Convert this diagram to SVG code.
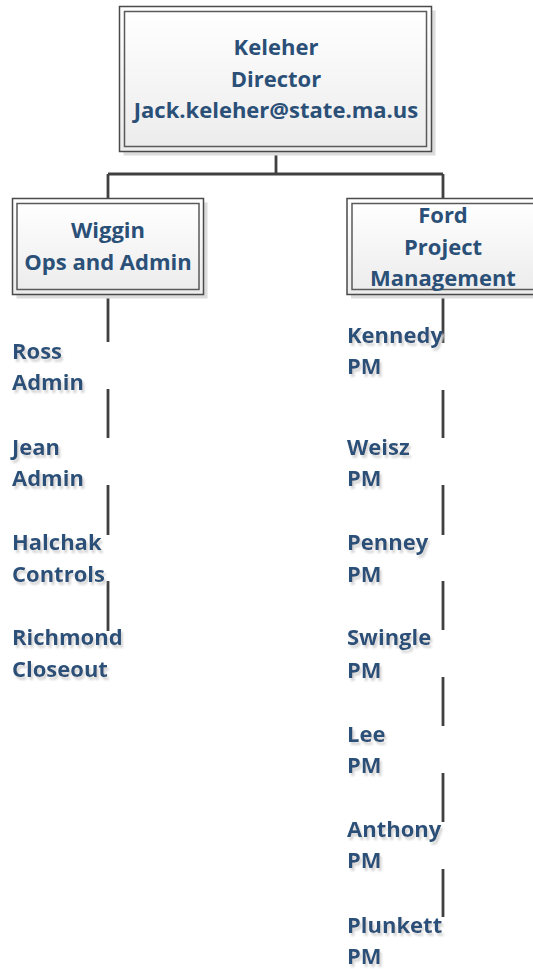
<svg xmlns="http://www.w3.org/2000/svg" width="533" height="969" viewBox="0 0 533 969">
<defs>
<linearGradient id="fillGrad" x1="0" y1="0" x2="0" y2="1">
<stop offset="0" stop-color="#ffffff"/>
<stop offset="1" stop-color="#ececec"/>
</linearGradient>
<filter id="txtShadow" x="-10%" y="-30%" width="130%" height="180%">
<feDropShadow dx="2" dy="3" stdDeviation="0.8" flood-color="#d4d4d4" flood-opacity="1"/>
</filter>
</defs>
<style>
.shadow{fill:#dcdcdc;stroke:none}
.outer{fill:url(#fillGrad);stroke:#4a4a4a;stroke-width:1.5}
.inner{fill:url(#fillGrad);stroke:#5a5a5a;stroke-width:1.5}
.t{font-family:"Open Sans","Noto Sans","Liberation Sans",sans-serif;font-weight:bold;font-size:22px;fill:#2b5078}
.c{text-anchor:middle}
.leaf{filter:url(#txtShadow)}
.conn{stroke:#404040;stroke-width:2.8;fill:none}
</style>
<g id="connectors">
<path class="conn" d="M276,151.5 V174 M108,174 H443 M108,174 V198.5 M443,174 V198.5"/>
<path class="conn" d="M108,294 V342 M108,389 V438 M108,485 V535 M108,581 V631"/>
<path class="conn" d="M443,294 V343 M443,390 V438 M443,485 V535 M443,581 V630 M443,677 V726 M443,773 V822 M443,869 V917"/>
</g>
<g id="keleher">
<rect class="shadow" x="123.5" y="10.5" width="312" height="145"/>
<rect class="outer" x="119.5" y="6.5" width="312" height="145"/>
<rect class="inner" x="124.5" y="11.5" width="302" height="135"/>
<text class="t c" x="276" y="55">Keleher</text>
<text class="t c" x="276" y="87">Director</text>
<text class="t c" x="276" y="118">Jack.keleher@state.ma.us</text>
</g>
<g id="wiggin">
<rect class="shadow" x="16.5" y="202.5" width="191" height="96"/>
<rect class="outer" x="12.5" y="198.5" width="191" height="96"/>
<rect class="inner" x="17" y="203.5" width="182" height="86"/>
<text class="t c" x="108" y="238">Wiggin</text>
<text class="t c" x="108" y="270">Ops and Admin</text>
</g>
<g id="ford">
<rect class="shadow" x="351" y="202.5" width="192" height="96"/>
<rect class="outer" x="347" y="198.5" width="192" height="96"/>
<rect class="inner" x="352" y="203.5" width="182" height="86"/>
<text class="t c" x="443" y="223">Ford</text>
<text class="t c" x="443" y="255">Project</text>
<text class="t c" x="443" y="286">Management</text>
</g>
<g id="ross" class="leaf"><text class="t" x="12" y="359">Ross</text><text class="t" x="12" y="390">Admin</text></g>
<g id="jean" class="leaf"><text class="t" x="12" y="454.5">Jean</text><text class="t" x="12" y="485.5">Admin</text></g>
<g id="halchak" class="leaf"><text class="t" x="12" y="550">Halchak</text><text class="t" x="12" y="581.5">Controls</text></g>
<g id="richmond" class="leaf"><text class="t" x="12" y="645">Richmond</text><text class="t" x="12" y="676.5">Closeout</text></g>
<g id="kennedy" class="leaf"><text class="t" x="347" y="343">Kennedy</text><text class="t" x="347" y="374">PM</text></g>
<g id="weisz" class="leaf"><text class="t" x="347" y="454.5">Weisz</text><text class="t" x="347" y="485.5">PM</text></g>
<g id="penney" class="leaf"><text class="t" x="347" y="550">Penney</text><text class="t" x="347" y="581.5">PM</text></g>
<g id="swingle" class="leaf"><text class="t" x="347" y="645">Swingle</text><text class="t" x="347" y="677.5">PM</text></g>
<g id="lee" class="leaf"><text class="t" x="347" y="741.5">Lee</text><text class="t" x="347" y="773">PM</text></g>
<g id="anthony" class="leaf"><text class="t" x="347" y="836.5">Anthony</text><text class="t" x="347" y="868">PM</text></g>
<g id="plunkett" class="leaf"><text class="t" x="347" y="933">Plunkett</text><text class="t" x="347" y="964">PM</text></g>
</svg>
